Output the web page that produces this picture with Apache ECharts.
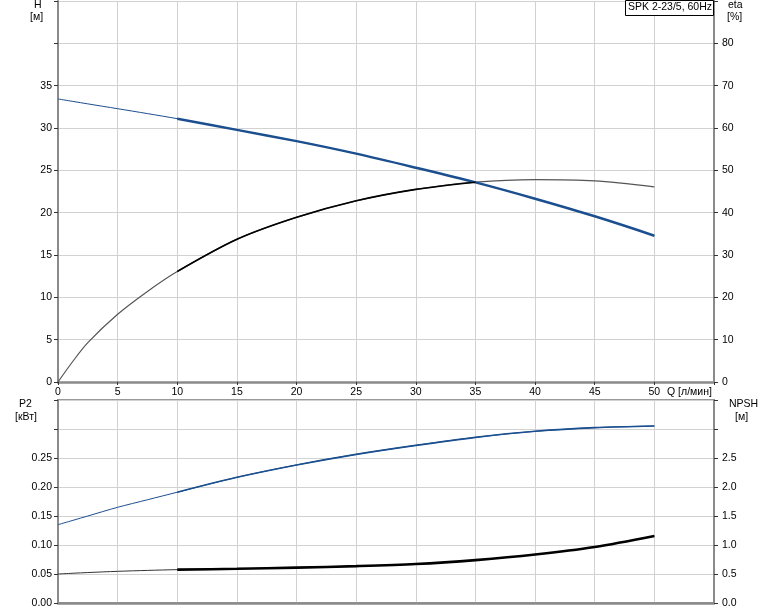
<!DOCTYPE html>
<html>
<head>
<meta charset="utf-8">
<script src="https://cdn.jsdelivr.net/npm/echarts@6/dist/echarts.min.js"></script>
<style>
html,body{margin:0;padding:0;background:#fff;}
#chart{width:774px;height:611px;}
</style>
</head>
<body>
<div id="chart"></div>
<script>
// ---- data ----
var Q      = [0, 1.25, 2.5, 5, 7.5, 10, 15, 20, 25, 30, 35, 40, 45, 50];
var H      = [33.43, 33.14, 32.85, 32.28, 31.7, 31.1, 29.78, 28.45, 26.97, 25.31, 23.58, 21.65, 19.57, 17.28];
var ETA    = [0, 4.9, 9.3, 16.0, 21.4, 26.1, 33.7, 38.9, 42.8, 45.5, 47.2, 47.8, 47.5, 46.1];
var P2     = [0.135, 0.1425, 0.150, 0.165, 0.178, 0.191, 0.2167, 0.238, 0.2563, 0.2718, 0.2856, 0.296, 0.3023, 0.3052];
var NPSH   = [0.5, 0.513, 0.525, 0.546, 0.562, 0.575, 0.59, 0.61, 0.635, 0.672, 0.74, 0.835, 0.965, 1.155];
var xTicks   = [0, 5, 10, 15, 20, 25, 30, 35, 40, 45, 50];
var hTicks   = [0, 5, 10, 15, 20, 25, 30, 35];
var etaTicks = [0, 10, 20, 30, 40, 50, 60, 70, 80];
var p2Ticks  = ['0.00', '0.05', '0.10', '0.15', '0.20', '0.25'];
var npTicks  = ['0.0', '0.5', '1.0', '1.5', '2.0', '2.5'];
var title = 'SPK 2-23/5, 60Hz';

function pairs(xs, ys, a, b) {
  var out = [];
  for (var i = a; i <= b; i++) out.push([xs[i], ys[i]]);
  return out;
}
var I10 = Q.indexOf(10), I35 = Q.indexOf(35), IEND = Q.length - 1;

var FONT = 'Liberation Sans, Arial, sans-serif';
var FS = 10.5;
var BLUE = '#1b4f8f';
var GRID = '#d2d2d2';
var AXIS = '#8a8a8a';

var chart = echarts.init(document.getElementById('chart'), null, {renderer: 'canvas'});

function xAx(gi, showLabel) {
  return {
    type: 'value', gridIndex: gi, min: 0, max: 55, interval: 5,
    axisLine: {show: true, onZero: false, lineStyle: {color: AXIS, width: 2.5}},
    axisTick: {show: showLabel, length: 3, lineStyle: {color: '#333'}},
    axisLabel: {show: showLabel, margin: 5, color: '#000', fontSize: FS, fontFamily: FONT,
      formatter: function (v) { return xTicks.indexOf(v) >= 0 ? String(v) : ''; }},
    splitLine: {show: true, lineStyle: {color: GRID, width: 1}}
  };
}
function yAx(gi, pos, min, max, interval, labels, split) {
  return {
    type: 'value', gridIndex: gi, position: pos, min: min, max: max, interval: interval,
    axisLine: {show: true, onZero: false, lineStyle: {color: AXIS, width: 2}},
    axisTick: {show: true, length: 4, lineStyle: {color: '#333'}},
    axisLabel: {show: true, margin: pos === 'left' ? 6 : 8, color: '#000', fontSize: FS, fontFamily: FONT,
      formatter: function (v) {
        for (var i = 0; i < labels.length; i++) {
          if (Math.abs(parseFloat(labels[i]) - v) < 1e-6) return String(labels[i]);
        }
        return '';
      }},
    splitLine: {show: split, lineStyle: {color: GRID, width: 1}}
  };
}

function line(xi, yi, data, color, width, z) {
  return {
    type: 'line', xAxisIndex: xi, yAxisIndex: yi, data: data, smooth: 0.3,
    showSymbol: false, symbol: 'none', silent: true, animation: false, z: z || 2,
    lineStyle: {color: color, width: width}
  };
}

var option = {
  animation: false,
  backgroundColor: '#fff',
  grid: [
    {left: 58, right: 60, top: 1, height: 381, show: false},
    {left: 58, right: 60, top: 400, height: 203, show: true, borderColor: '#999', borderWidth: 2, backgroundColor: 'transparent'}
  ],
  xAxis: [xAx(0, true), xAx(1, false)],
  yAxis: [
    yAx(0, 'left', 0, 45, 5, hTicks, true),
    yAx(0, 'right', 0, 90, 10, etaTicks, false),
    yAx(1, 'left', 0, 0.35, 0.05, p2Ticks, true),
    yAx(1, 'right', 0, 3.5, 0.5, npTicks, false)
  ],
  series: [
    // thin full curves underneath, thicker overlays for the main range
    line(0, 0, pairs(Q, H, 0, IEND), BLUE, 1, 2),
    line(0, 0, pairs(Q, H, I10, IEND), BLUE, 2.5, 3),
    line(0, 1, pairs(Q, ETA, 0, IEND), '#555', 1.2, 2),
    line(0, 1, pairs(Q, ETA, I10, I35), '#000', 1.6, 3),
    line(1, 2, pairs(Q, P2, 0, IEND), BLUE, 1, 2),
    line(1, 2, pairs(Q, P2, I10, IEND), BLUE, 1.6, 3),
    line(1, 3, pairs(Q, NPSH, 0, IEND), '#333', 1, 2),
    line(1, 3, pairs(Q, NPSH, I10, IEND), '#000', 2.6, 3)
  ],
  graphic: [
    {type: 'text', left: 34, top: 0, style: {text: 'H', font: FS + 'px ' + FONT, fill: '#000'}},
    {type: 'text', left: 30, top: 12, style: {text: '[м]', font: FS + 'px ' + FONT, fill: '#000'}},
    {type: 'text', left: 728, top: 0, style: {text: 'eta', font: FS + 'px ' + FONT, fill: '#000'}},
    {type: 'text', left: 727, top: 12, style: {text: '[%]', font: FS + 'px ' + FONT, fill: '#000'}},
    {type: 'text', left: 19, top: 399, style: {text: 'P2', font: FS + 'px ' + FONT, fill: '#000'}},
    {type: 'text', left: 15, top: 412, style: {text: '[кВт]', font: FS + 'px ' + FONT, fill: '#000'}},
    {type: 'text', left: 729, top: 399, style: {text: 'NPSH', font: FS + 'px ' + FONT, fill: '#000'}},
    {type: 'text', left: 735, top: 412, style: {text: '[м]', font: FS + 'px ' + FONT, fill: '#000'}},
    {type: 'text', left: 667, top: 387, style: {text: 'Q [л/мин]', font: FS + 'px ' + FONT, fill: '#000'}},
    {type: 'rect', shape: {x: 625.5, y: 0.5, width: 88, height: 15}, style: {fill: '#fff', stroke: '#000', lineWidth: 1}, z: 100},
    {type: 'text', left: 628, top: 2, z: 101, style: {text: title, font: FS + 'px ' + FONT, fill: '#000'}}
  ]
};
chart.setOption(option);
</script>
</body>
</html>
